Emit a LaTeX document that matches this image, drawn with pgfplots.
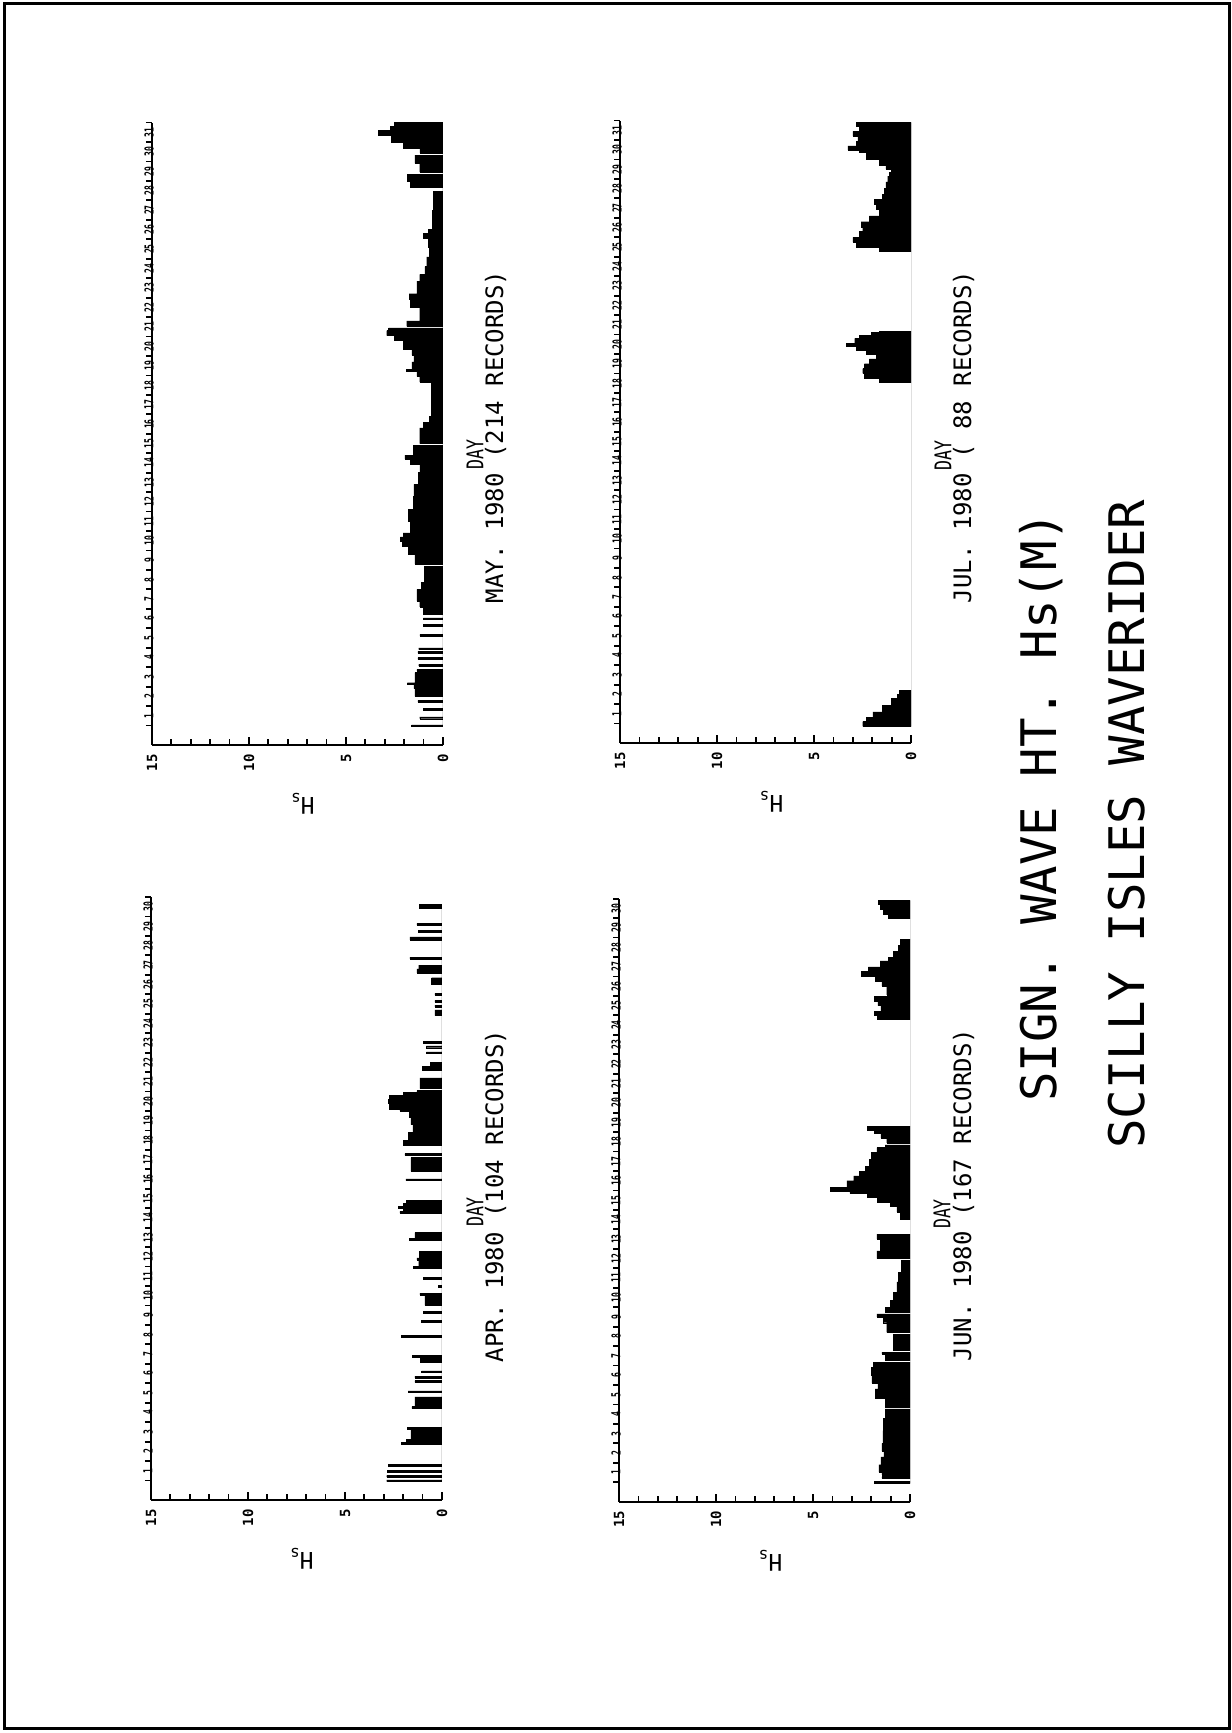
\documentclass[border=0pt]{standalone}
\usepackage{pgfplots}
\pgfplotsset{compat=1.18}
\usepackage{pgfplotstable}
\usepackage{fontspec}
\setmainfont{DejaVu Sans Mono}
\newfontfamily\condmono[FakeStretch=0.65]{DejaVu Sans Mono}
\newfontfamily\daymono[FakeStretch=0.72]{DejaVu Sans Mono}

% t = day position (day d spans [d,d+1]), h = Hs (m) from t to next t
\pgfplotstableread{
t h
0.95 2.85
1.04 0
1.17 2.85
1.26 0
1.45 2.8
1.54 0
1.73 2.75
1.82 0
2.85 2.1
2.95 1.85
3.1 1.6
3.65 1.8
3.75 0
4.7 1.55
4.8 1.4
5.3 0
5.52 1.75
5.61 0
6.05 1.4
6.14 0
6.28 1.4
6.37 0
6.55 1.05
6.64 0
7.1 1.1
7.33 1.52
7.42 0
8.36 2.08
8.45 0
9.13 1.05
9.22 0
9.6 0.95
9.69 0
10.0 0.88
10.55 1.14
10.64 0
10.93 0.19
11.02 0
11.36 0.96
11.45 0
11.9 1.48
12.0 1.2
12.35 1.3
12.45 1.15
12.8 0
13.35 1.68
13.45 1.4
13.75 0
14.75 2.17
14.84 0
14.9 2.0
15.0 2.25
15.09 0
15.15 2.0
15.24 0
15.32 1.82
15.41 0
16.42 1.86
16.51 0
16.9 1.6
17.6 0
17.72 1.91
17.81 0
18.25 2.0
18.5 1.75
18.9 1.5
19.3 1.6
19.7 1.7
20.0 2.17
20.1 2.7
20.4 2.77
20.6 2.7
20.8 2.0
20.95 1.3
21.05 0
21.15 1.14
21.7 0
22.1 1.0
22.3 0.6
22.5 0
22.95 0.8
23.04 0
23.25 0.8
23.34 0
23.5 0.97
23.59 0
24.9 0.37
25.2 0
25.35 0.37
25.44 0
25.6 0.37
25.69 0
25.95 0.37
26.04 0
26.5 0.54
26.85 0
27.1 1.3
27.3 1.2
27.5 0
27.82 1.65
27.91 0
28.8 1.65
28.95 0
29.2 1.22
29.29 0
29.55 1.3
29.64 0
30.4 1.18
30.62 0
}\aprdata

\pgfplotstableread{
t h
0.95 1.62
1.04 0
1.35 1.2
1.44 0
1.78 1.0
1.87 0
2.2 1.3
2.29 0
2.5 1.45
2.9 1.5
3.1 1.84
3.2 1.45
3.6 1.45
3.72 0
3.8 1.35
3.89 0
4.05 1.25
4.14 0
4.4 1.3
4.49 0
4.72 1.3
4.81 0
4.9 1.25
4.99 0
5.6 1.19
5.69 0
6.1 1.0
6.19 0
6.45 1.01
6.54 0
6.73 1.0
7.1 1.2
7.4 1.35
8.0 1.1
8.35 0.95
9.2 0
9.3 1.45
9.8 1.8
10.2 2.1
10.5 2.2
10.7 2.05
10.9 1.7
11.44 0
11.52 1.8
12.1 1.53
12.8 1.5
13.4 1.27
14.0 1.19
14.45 1.7
14.7 1.96
14.9 1.53
15.4 0
15.5 1.2
16.3 1.0
16.6 0.7
16.9 0.6
18.65 1.2
18.95 1.35
19.2 1.9
19.3 1.6
19.7 1.5
20.05 1.6
20.35 2.05
20.8 2.5
21.05 2.9
21.3 2.8
21.44 0
21.52 1.87
21.8 1.2
22.5 1.7
22.9 1.74
23.2 1.35
23.85 1.2
24.2 0.93
24.6 0.84
25.1 0.7
25.6 0.76
26.05 1.0
26.3 0.76
26.5 0.55
27.5 0.5
28.45 0
28.7 1.7
29.0 1.84
29.35 0
29.45 1.2
29.9 1.45
30.33 0
30.43 1.19
30.7 2.05
31.0 2.65
31.35 3.33
31.6 2.7
31.8 2.5
32.0 0
}\maydata

\pgfplotstableread{
t h
0.95 1.85
1.04 0
1.2 1.45
1.29 0
1.38 1.45
1.47 0
1.52 1.6
1.9 1.5
2.3 1.35
2.6 1.45
3.0 1.4
3.66 0
3.74 1.37
4.3 1.28
4.77 0
4.85 1.28
5.3 1.8
5.8 1.65
6.1 1.97
6.5 2.0
6.9 1.9
7.17 0
7.25 1.28
7.6 1.45
7.69 0
7.78 0.85
8.6 0
8.7 1.2
9.2 1.37
9.5 1.71
9.65 0
9.73 1.28
10.0 1.0
10.35 0.85
10.75 0.68
11.3 0.6
11.8 0.43
12.42 0
12.5 1.71
12.9 1.54
13.5 1.71
13.75 0
14.5 0.5
14.9 0.68
15.2 1.02
15.4 1.7
15.65 2.2
15.85 3.1
15.95 4.1
16.15 3.25
16.5 2.9
16.75 2.6
17.0 2.3
17.25 2.1
17.6 2.0
17.95 1.71
18.2 1.28
18.35 0
18.45 1.2
18.7 1.5
18.95 1.85
19.1 2.2
19.3 0
24.8 1.7
25.0 1.85
25.2 1.5
25.5 1.65
25.75 1.85
25.97 0
26.05 1.2
26.5 1.45
26.75 1.8
26.95 0
27.02 2.5
27.25 2.15
27.5 1.54
27.8 1.1
28.0 0.85
28.3 0.6
28.6 0.51
28.9 0
30.0 1.1
30.2 1.37
30.45 1.54
30.7 1.62
30.9 0
}\jundata

\pgfplotstableread{
t h
0.85 2.49
1.1 2.3
1.3 1.97
1.6 1.46
1.95 1.03
2.3 0.69
2.5 0.6
2.72 0
18.55 1.63
18.75 2.4
19.0 2.49
19.25 0
19.32 2.4
19.5 2.14
19.75 1.8
20.0 2.31
20.2 2.83
20.4 3.34
20.55 2.9
20.8 2.66
20.95 2.06
21.1 1.63
21.15 0
25.3 1.63
25.5 2.83
25.75 3.0
26.0 2.66
26.3 2.49
26.5 2.57
26.8 2.14
27.1 1.63
27.45 1.8
27.7 1.89
27.95 1.46
28.2 1.37
28.5 1.29
28.85 1.2
29.15 1.12
29.35 1.03
29.5 1.29
29.7 1.63
30.0 2.31
30.35 2.66
30.5 3.26
30.7 2.83
30.95 2.74
31.2 3.0
31.45 2.66
31.7 2.83
31.9 0
}\juldata

\pgfplotsset{
  month/.style={
    scale only axis,
    width=145.5pt,
    x dir=reverse,
    xmin=0, xmax=15, ymin=0,
    axis x line*=bottom,
    axis y line*=left,
    axis line style={black, line width=1.1pt},
    xtick pos=left, ytick pos=left,
    xticklabel pos=left, yticklabel pos=left,
    xtick={0,5,10,15},
    xticklabels={0,5,10,15},
    minor xtick={1,2,...,14},
    minor ytick={1,2,...,32},
    xtick align=inside,
    ytick align=outside,
    major tick length=4pt,
    minor tick length=3pt,
    tick style={black, line width=0.9pt},
    major y tick style={draw=none},
    xticklabel style={yshift=-4.5pt, rotate=90, anchor=east, inner sep=0pt, font=\fontsize{7}{8}\selectfont\bfseries},
    yticklabel style={rotate=90, anchor=north, inner sep=0pt, font=\condmono\fontsize{6.2}{7}\selectfont\bfseries},
  },
  hsbars/.style={xbar interval, fill=black, draw=black, line width=0.2pt},
}

\begin{document}
\begin{tikzpicture}[x=1pt,y=1pt]
\useasboundingbox (0,0) rectangle (615.5,866.5);
\draw[line width=1.5pt] (2,2) rectangle (614.5,864.5);

% APR
\begin{axis}[month, at={(75.5pt,116.5pt)}, anchor=south west, height=301.5pt, ymax=31,
  ytick={1.5,2.5,...,30.5},
  yticklabels={1,2,3,4,5,6,7,8,9,10,11,12,13,14,15,16,17,18,19,20,21,22,23,24,25,26,27,28,29,30}]
\addplot[hsbars] table[x=h,y=t]{\aprdata};
\end{axis}

% MAY
\begin{axis}[month, at={(76pt,494pt)}, anchor=south west, height=311.2pt, ymax=32,
  ytick={1.5,2.5,...,31.5},
  yticklabels={1,2,3,4,5,6,7,8,9,10,11,12,13,14,15,16,17,18,19,20,21,22,23,24,25,26,27,28,29,30,31}]
\addplot[hsbars] table[x=h,y=t]{\maydata};
\end{axis}

% JUN
\begin{axis}[month, at={(309.5pt,115.65pt)}, anchor=south west, height=301.5pt, ymax=31,
  ytick={1.5,2.5,...,30.5},
  yticklabels={1,2,3,4,5,6,7,8,9,10,11,12,13,14,15,16,17,18,19,20,21,22,23,24,25,26,27,28,29,30}]
\addplot[hsbars] table[x=h,y=t]{\jundata};
\end{axis}

% JUL
\begin{axis}[month, at={(310pt,495pt)}, anchor=south west, height=311.2pt, ymax=32,
  ytick={1.5,2.5,...,31.5},
  yticklabels={1,2,3,4,5,6,7,8,9,10,11,12,13,14,15,16,17,18,19,20,21,22,23,24,25,26,27,28,29,30,31}]
\addplot[hsbars] table[x=h,y=t]{\juldata};
\end{axis}

% axis labels
\tikzset{hslab/.style={rotate=180, inner sep=0pt, font=\fontsize{11.5}{13}\selectfont}}
\node[hslab] at (151,87) {H\raisebox{-0.3ex}{\fontsize{8}{9}\selectfont s}};
\node[hslab] at (151.5,464.5) {H\raisebox{-0.3ex}{\fontsize{8}{9}\selectfont s}};
\node[hslab] at (385.25,86.1) {H\raisebox{-0.3ex}{\fontsize{8}{9}\selectfont s}};
\node[hslab] at (385.75,465.5) {H\raisebox{-0.3ex}{\fontsize{8}{9}\selectfont s}};

\tikzset{daylab/.style={rotate=90, inner sep=0pt, font=\daymono\fontsize{11.5}{13}\selectfont}}
\node[daylab] at (237.5,260.5) {DAY};
\node[daylab] at (237.5,639) {DAY};
\node[daylab] at (471,259.5) {DAY};
\node[daylab] at (471.5,638.5) {DAY};

\tikzset{monlab/.style={rotate=90, inner sep=0pt, font=\fontsize{12}{14}\selectfont}}
\node[monlab] at (247.75,268.5) {APR. 1980 (104 RECORDS)};
\node[monlab] at (247.75,648) {MAY. 1980 (214 RECORDS)};
\node[monlab] at (481.75,269) {JUN. 1980 (167 RECORDS)};
\node[monlab] at (481.75,648) {JUL. 1980 ( 88 RECORDS)};

% titles
\tikzset{ttl/.style={rotate=90, anchor=base west, inner sep=0pt, font=\fontsize{24.5}{28}\selectfont}}
\node[ttl] at (528.25,315.5) {SIGN. WAVE HT. Hs(M)};
\node[ttl] at (572.25,292) {SCILLY ISLES WAVERIDER};
\end{tikzpicture}
\end{document}
